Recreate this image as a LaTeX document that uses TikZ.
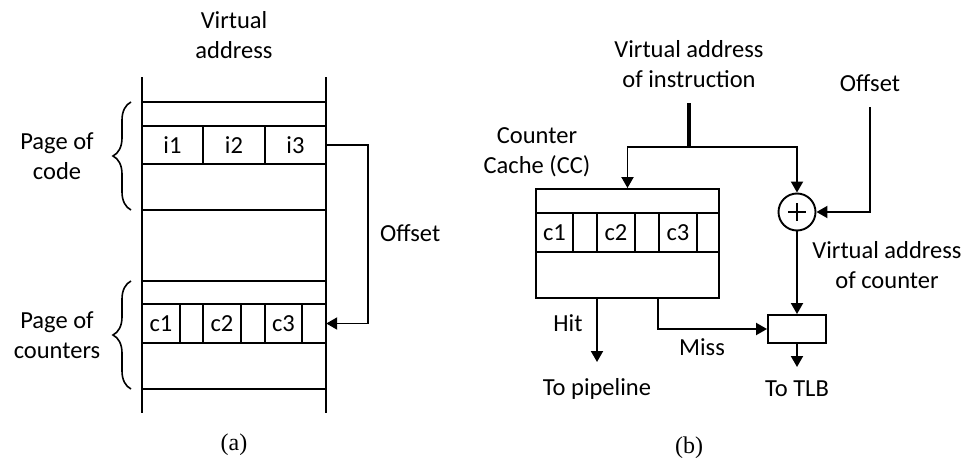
\documentclass[tikz,border=0pt]{standalone}
\usepackage{fontspec}
\setmainfont{Carlito}
\newfontfamily\capfont{Liberation Serif}
\usetikzlibrary{arrows.meta,decorations.pathreplacing,calc}

\begin{document}
\begin{tikzpicture}[x=1pt,y=-1pt,
  line/.style={line width=1.9pt},
  thinline/.style={line width=1.4pt},
  thickline/.style={line width=3.2pt},
  arr/.style={line width=1.9pt,-{Triangle[length=11pt,width=12pt]}},
  lbl/.style={font=\fontsize{24.5}{30}\selectfont,align=center,inner sep=0pt},
  captxt/.style={font=\capfont\fontsize{24}{28}\selectfont,inner sep=0pt},
  cell/.style={draw=none,inner sep=0pt,font=\fontsize{24.5}{30}\selectfont,
    minimum height=38pt},
  brc/.style={line width=1.6pt,decorate,decoration={brace,amplitude=18pt,aspect=0.5}}
]
\useasboundingbox (0,0) rectangle (967,463);

% ---------------- (a) memory layout ----------------
\node[lbl] (vaddr) at (234,35) {Virtual\\address};
\draw[line] (142,77) -- (142,413);
\draw[line] (326,77) -- (326,413);
\foreach \y in {102,126,164,210,281,304,343,389}
  \draw[line] (142,\y) -- (326,\y);

% instruction row
\draw[thinline] (203,126) -- (203,164);
\draw[thinline] (265,126) -- (265,164);
\node[cell,minimum width=61pt] (i1) at (172.5,145) {i1};
\node[cell,minimum width=62pt] (i2) at (234,145) {i2};
\node[cell,minimum width=61pt] (i3) at (295.5,145) {i3};

% counter row
\foreach \x in {180,203,241,265,302}
  \draw[thinline] (\x,304) -- (\x,343);
\node[cell,minimum width=38pt] (c1) at (161,323.5) {c1};
\node[cell,minimum width=38pt] (c2) at (222,323.5) {c2};
\node[cell,minimum width=37pt] (c3) at (283.5,323.5) {c3};
\node[cell,minimum width=24pt] (c3s) at (314,323.5) {};

% page braces
\draw[brc] (131,210) -- (131,102);
\draw[brc] (131,389) -- (131,281);
\node[lbl] (pcode) at (57,156) {Page of\\code};
\node[lbl] (pcnt) at (57,335) {Page of\\counters};

% offset link from instruction to its counter
\draw[arr] (i3.east) -- ++(42,0) |- (c3s.east);
\node[lbl,anchor=west] (offa) at (380,233) {Offset};

\node[captxt] (capa) at (234,445) {(a)};

% ---------------- (b) counter cache ----------------
\node[lbl] (vinst) at (689,64) {Virtual address\\of instruction};
\coordinate (vsrc) at (689,103);
\coordinate (split) at (689,147);
\node[lbl] (cclbl) at (537,152) {Counter\\Cache (CC)};

\node[draw,line,minimum width=183pt,minimum height=109pt,inner sep=0pt] (cc) at (627.5,243.5) {};
\draw[line] (cc.west |- 0,213) -- (cc.east |- 0,213);
\draw[line] (cc.west |- 0,252) -- (cc.east |- 0,252);
\foreach \x in {573,597,635,659,697}
  \draw[thinline] (\x,213) -- (\x,252);
\node[cell,minimum width=37pt] (bc1) at (554.5,232.5) {c1};
\node[cell,minimum width=38pt] (bc2) at (616,232.5) {c2};
\node[cell,minimum width=38pt] (bc3) at (678,232.5) {c3};

\node[circle,draw,line,minimum size=37pt,inner sep=0pt] (add) at (797,212) {};
\draw[line] ($(add.center)+(-9,0)$) -- ($(add.center)+(9,0)$);
\draw[line] ($(add.center)+(0,-9)$) -- ($(add.center)+(0,9)$);

\node[lbl] (offb) at (870,83) {Offset};
\coordinate (offsrc) at (870,107);

\node[draw,line,minimum width=58pt,minimum height=28pt,inner sep=0pt] (tlb) at (797,329) {};
\node[lbl] (vcnt) at (887,265) {Virtual address\\of counter};

\draw[thickline] (vsrc) -- (split);
\draw[arr] (split) -| (cc.north);
\draw[arr] (split) -| (add.north);
\draw[arr] (offsrc) |- (add.east);
\draw[arr] (add.south) -- (tlb.north);

\coordinate (hitend) at (597,362);
\coordinate (missx) at (658,300);
\draw[arr] (hitend |- cc.south) -- (hitend);
\draw[arr] (missx |- cc.south) |- (tlb.west);
\coordinate (tlbend) at (797,367);
\draw[arr] (tlb.south) -- (tlbend);

\node[lbl] (hit) at (568,323) {Hit};
\node[lbl] (miss) at (702,347) {Miss};
\node[lbl] (topipe) at (597,389) {To pipeline};
\node[lbl] (totlb) at (797,389) {To TLB};

\node[captxt] (capb) at (689,448) {(b)};
\end{tikzpicture}
\end{document}
